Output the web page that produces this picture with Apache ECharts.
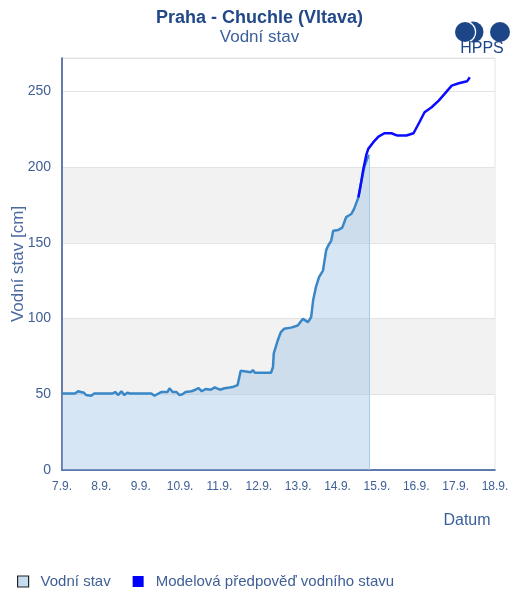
<!DOCTYPE html>
<html>
<head>
<meta charset="utf-8">
<script src="https://cdn.jsdelivr.net/npm/echarts@6/dist/echarts.min.js"></script>
<style>
  html, body { margin: 0; padding: 0; background: #fff; }
  #chart { width: 519px; height: 592px; }
</style>
</head>
<body>
<div id="chart"></div>
<script>
// time in days since 7.9. 00:00, level in cm
const obsTime = [0, 0.33, 0.41, 0.48, 0.56, 0.61, 0.66, 0.74, 0.82, 1.28, 1.35, 1.43, 1.51, 1.58, 1.66, 1.73,
  2.27, 2.35, 2.45, 2.53, 2.68, 2.73, 2.81, 2.91, 2.98, 3.06, 3.14, 3.29, 3.39, 3.47, 3.55, 3.65, 3.78, 3.88,
  4.01, 4.13, 4.26, 4.36, 4.46, 4.54, 4.59, 4.80, 4.85, 4.90, 5.31, 5.36, 5.38, 5.48, 5.56, 5.64, 5.82, 5.99,
  6.12, 6.25, 6.33, 6.38, 6.45, 6.53, 6.63, 6.71, 6.76, 6.84, 6.89, 7.02, 7.12, 7.22, 7.35, 7.42, 7.53, 7.60,
  7.68, 7.76, 7.81]
const obsLevel = [50.5, 50.5, 52, 51.5, 51, 49.5, 50, 49, 50.5, 50.5, 51.5, 49.5, 52, 49.5, 51, 50.5,
  50.5, 49, 50.5, 51.5, 51.5, 54, 51.5, 51.5, 49.5, 50, 51.5, 52, 53, 54, 52, 53.5, 53, 54.5,
  53, 54, 54.5, 55, 56, 65.5, 64.5, 64.5, 66, 64.2, 64.2, 68, 77, 85.5, 91, 93.2, 94, 95.4,
  99.8, 97.6, 101, 112, 120.7, 127.3, 131.7, 145, 148, 151.5, 158, 158.5, 160, 167, 169, 172.4, 180, 190,
  200, 206, 208]

const fcTime = [7.53, 7.60, 7.65, 7.73, 7.78, 7.91, 8.04, 8.19, 8.37, 8.52, 8.75, 8.93, 9.08, 9.21, 9.39,
  9.57, 9.72, 9.90, 10.08, 10.29, 10.36]
const fcLevel = [180, 190, 198, 208, 212, 216.4, 220.1, 222.3, 222.3, 220.8, 220.8, 222.3, 229.6, 236.2, 239.5,
  243.9, 248.3, 253.8, 255.3, 256.6, 259.3]

const dayLabels = ['7.9.', '8.9.', '9.9.', '10.9.', '11.9.', '12.9.', '13.9.', '14.9.', '15.9.', '16.9.', '17.9.', '18.9.']

const font = '"Liberation Sans", Arial, sans-serif'
const textBlue = '#3f5f96'
const logoBlue = '#1d4689'

const chart = echarts.init(document.getElementById('chart'))

const obsData = obsTime.map((t, i) => [t, obsLevel[i]])
const fcData = fcTime.map((t, i) => [t, fcLevel[i]])
const lastT = obsTime[obsTime.length - 1]
const lastV = obsLevel[obsLevel.length - 1]

chart.setOption({
  animation: false,
  textStyle: { fontFamily: font },
  title: {
    text: 'Praha - Chuchle (Vltava)',
    subtext: 'Vodní stav',
    left: 'center',
    top: 4,
    itemGap: 2,
    textStyle: { color: '#22488a', fontSize: 18, fontWeight: 'bold', fontFamily: font },
    subtextStyle: { color: '#3a5f9c', fontSize: 17, fontFamily: font }
  },
  grid: {
    left: 62,
    right: 24,
    top: 58,
    bottom: 122,
    outerBoundsMode: 'none',
    show: true,
    borderColor: '#e3e3e3',
    borderWidth: 1
  },
  legend: {
    left: 12,
    top: 569,
    itemWidth: 11,
    itemHeight: 11,
    itemGap: 22,
    textStyle: { color: textBlue, fontSize: 15, fontFamily: font, padding: [0, 0, 0, 7] },
    data: [
      { name: 'Vodní stav', icon: 'rect', itemStyle: { color: '#c6ddf1', borderColor: '#222', borderWidth: 1.2 } },
      { name: 'Modelová předpověď vodního stavu', icon: 'rect', itemStyle: { color: '#0000ff', borderWidth: 0 } }
    ]
  },
  xAxis: {
    type: 'value',
    min: 0,
    max: dayLabels.length - 1,
    interval: 1,
    axisLine: { show: true, lineStyle: { color: '#35559a', width: 1.5 } },
    axisTick: { show: false },
    splitLine: { show: false },
    axisLabel: {
      color: textBlue,
      fontSize: 12,
      margin: 11,
      formatter: v => dayLabels[v]
    }
  },
  yAxis: {
    type: 'value',
    min: 0,
    max: 272,
    interval: 50,
    name: 'Vodní stav [cm]',
    nameLocation: 'middle',
    nameGap: 35,
    nameMoveOverlap: false,
    nameTextStyle: { color: '#4a6aa0', fontSize: 17, fontFamily: font },
    axisLine: { show: true, lineStyle: { color: '#35559a', width: 1.5 } },
    axisTick: { show: false },
    axisLabel: { color: textBlue, fontSize: 14, margin: 11, showMaxLabel: false },
    splitLine: { lineStyle: { color: '#e3e3e3', width: 1 } },
    splitArea: {
      show: true,
      areaStyle: { color: ['rgba(0,0,0,0)', '#f2f2f2', 'rgba(0,0,0,0)', '#f2f2f2', 'rgba(0,0,0,0)', 'rgba(0,0,0,0)'] }
    }
  },
  graphic: [
    // HPPS logo
    { type: 'circle', shape: { cx: 473, cy: 32, r: 10.5 }, style: { fill: logoBlue } },
    { type: 'circle', shape: { cx: 465, cy: 32, r: 11.2 }, style: { fill: '#fff' } },
    { type: 'circle', shape: { cx: 465, cy: 32, r: 10 }, style: { fill: logoBlue } },
    { type: 'circle', shape: { cx: 500, cy: 32, r: 10 }, style: { fill: logoBlue } },
    { type: 'text', x: 482, y: 49, style: { text: 'HPPS', fill: logoBlue, fontSize: 16, fontFamily: font, align: 'center', verticalAlign: 'middle' } },
    { type: 'text', x: 467, y: 521, style: { text: 'Datum', fill: '#3a5f9c', fontSize: 16, fontFamily: font, align: 'center', verticalAlign: 'middle' } }
  ],
  series: [
    {
      name: 'Vodní stav',
      type: 'line',
      z: 3,
      data: obsData,
      showSymbol: false,
      lineStyle: { color: '#3a87c8', width: 2.5 },
      itemStyle: { color: '#c6ddf1' },
      areaStyle: { color: 'rgba(140,185,228,0.5)' },
      markLine: {
        silent: true,
        symbol: 'none',
        label: { show: false },
        lineStyle: { color: '#a9cbe8', width: 1, type: 'solid' },
        data: [[{ coord: [lastT, 0] }, { coord: [lastT, lastV] }]]
      }
    },
    {
      name: 'Modelová předpověď vodního stavu',
      type: 'line',
      z: 4,
      data: fcData,
      showSymbol: false,
      lineStyle: { color: '#0b0bff', width: 2.5 },
      itemStyle: { color: '#0000ff' }
    }
  ]
})
</script>
</body>
</html>
